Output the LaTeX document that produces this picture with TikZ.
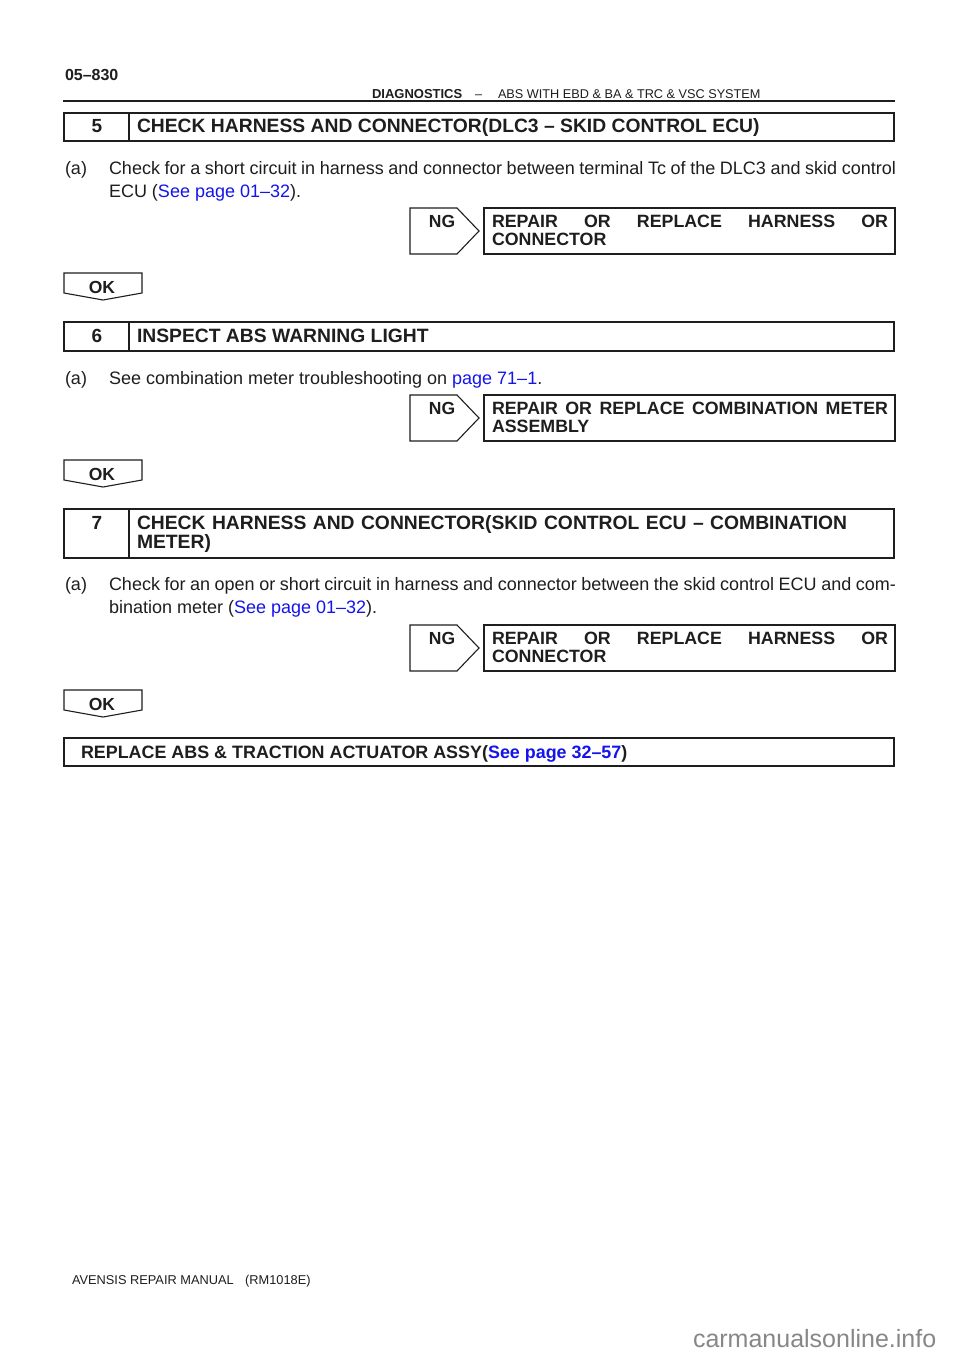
\documentclass[tikz,border=0pt]{standalone}
\usepackage{fontspec}
\setmainfont{Liberation Sans}
\definecolor{inkgray}{RGB}{30,30,30}
\definecolor{linkblue}{RGB}{20,20,235}
\definecolor{markgray}{RGB}{135,135,135}
\def\ngarrow(#1){\draw[frame] (410,#1) -- ++(47,0) -- ++(22,23) -- ++(-22,23) -- ++(-47,0) -- cycle;}
\def\oktag(#1){\draw[frame] (64,#1) -- (142,#1) -- ++(0,20) -- (103,#1+27) -- (64,#1+20) -- cycle;}
\def\stepframe(#1:#2){\draw[frame] (64,#1) rectangle (894,#2); \draw[frame] (129,#1) -- (129,#2);}

\begin{document}
\begin{tikzpicture}[x=1pt,y=-1pt,
	every node/.style={inner sep=0pt,outer sep=0pt,text=inkgray},
	frame/.style={draw=inkgray,line width=1.1pt},
	bodytxt/.style={anchor=base west,font=\fontsize{18}{23}\selectfont},
	para/.style={bodytxt,text width=787pt,align=justify},
	steptitle/.style={anchor=base west,font=\bfseries\fontsize{19.3}{19.5}\selectfont},
	stepnum/.style={anchor=base,font=\bfseries\fontsize{19}{19.5}\selectfont},
	result/.style={anchor=base west,text width=396pt,align=justify,font=\bfseries\fontsize{17.8}{18}\selectfont},
	tagtxt/.style={anchor=base,font=\bfseries\fontsize{17.5}{18}\selectfont}]
			%%%%% START %%%%%
			\useasboundingbox[fill=white] (0,0) rectangle (960,1358);
			
			% page head
			\node[anchor=base west,font=\bfseries\fontsize{16}{18}\selectfont] (pageno) at (65,80) {05--830};
			\draw[draw=inkgray,line width=1.4pt] (63,101) -- (895,101);
			\node[anchor=base west,font=\bfseries\fontsize{13}{14}\selectfont] (sect) at (372,98) {DIAGNOSTICS};
			\node[anchor=base west,font=\fontsize{12.7}{14}\selectfont] (dash) at (475,98) {--};
			\node[anchor=base west,font=\fontsize{12.7}{14}\selectfont] (system) at (498,98) {ABS WITH EBD \& BA \& TRC \& VSC SYSTEM};
			
			% step 5
			\stepframe(113:141)
			\node[stepnum] (num5) at (97,132) {5};
			\node[steptitle] (title5) at (137,132) {CHECK HARNESS AND CONNECTOR(DLC3 -- SKID CONTROL ECU)};
			\node[bodytxt] (a5) at (65,174) {(a)};
			\node[para] (text5) at (109,174) {Check for a short circuit in harness and connector between terminal Tc of the DLC3 and skid control\linebreak ECU (\textcolor{linkblue}{See page 01--32}).};
			\ngarrow(208)
			\node[tagtxt] (ng5) at (442,227) {NG};
			\draw[frame] (484,208) rectangle (895,254);
			\node[result] (fix5) at (492,227) {REPAIR OR REPLACE HARNESS OR\linebreak CONNECTOR};
			\oktag(273)
			\node[tagtxt] (ok5) at (102,293) {OK};
			
			% step 6
			\stepframe(322:351)
			\node[stepnum] (num6) at (97,342) {6};
			\node[steptitle] (title6) at (137,342) {INSPECT ABS WARNING LIGHT};
			\node[bodytxt] (a6) at (65,384) {(a)};
			\node[bodytxt] (text6) at (109,384) {See combination meter troubleshooting on \textcolor{linkblue}{page 71--1}.};
			\ngarrow(395)
			\node[tagtxt] (ng6) at (442,414) {NG};
			\draw[frame] (484,395) rectangle (895,441);
			\node[result] (fix6) at (492,414) {REPAIR OR REPLACE COMBINATION METER\linebreak ASSEMBLY};
			\oktag(460)
			\node[tagtxt] (ok6) at (102,480) {OK};
			
			% step 7
			\stepframe(509:558)
			\node[stepnum] (num7) at (97,529) {7};
			\node[steptitle,text width=745pt,align=left] (title7) at (137,529) {CHECK HARNESS AND CONNECTOR(SKID CONTROL ECU -- COMBINATION\\METER)};
			\node[bodytxt] (a7) at (65,590) {(a)};
			\node[para] (text7) at (109,590) {Check for an open or short circuit in harness and connector between the skid control ECU and com-\linebreak bination meter (\textcolor{linkblue}{See page 01--32}).};
			\ngarrow(625)
			\node[tagtxt] (ng7) at (442,644) {NG};
			\draw[frame] (484,625) rectangle (895,671);
			\node[result] (fix7) at (492,644) {REPAIR OR REPLACE HARNESS OR\linebreak CONNECTOR};
			\oktag(690)
			\node[tagtxt] (ok7) at (102,710) {OK};
			
			% last step
			\draw[frame] (64,738) rectangle (894,766);
			\node[steptitle,font=\bfseries\fontsize{17.9}{19.5}\selectfont] (last) at (81,758) {REPLACE ABS \& TRACTION ACTUATOR ASSY(\textcolor{linkblue}{See page 32--57})};
			
			% page foot
			\node[anchor=base west,font=\fontsize{12.8}{14}\selectfont] (manual) at (72,1284) {AVENSIS REPAIR MANUAL\hspace{0.9em}(RM1018E)};
			\node[anchor=base west,font=\fontsize{25}{26}\selectfont,text=markgray] (site) at (693,1347) {carmanualsonline.info};
			%%%%% END %%%%%
\end{tikzpicture}
\end{document}
